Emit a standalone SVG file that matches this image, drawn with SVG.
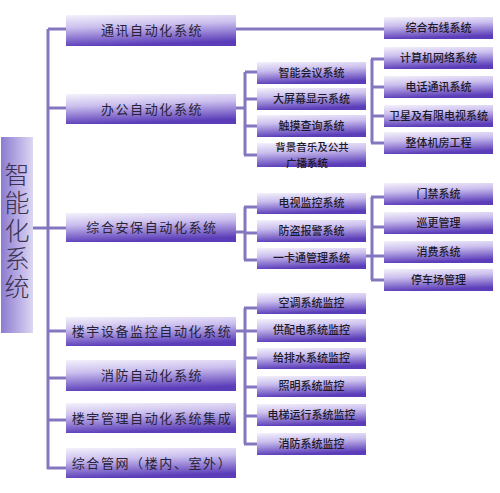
<svg xmlns="http://www.w3.org/2000/svg" width="500" height="493" viewBox="0 0 500 493">
<defs>
<linearGradient id="gBox" x1="0" y1="0" x2="0.2" y2="1">
<stop offset="0" stop-color="#f4f1fb"/>
<stop offset="0.4" stop-color="#cbbfee"/>
<stop offset="1" stop-color="#5b3db9"/>
</linearGradient>
<linearGradient id="gRoot" x1="0" y1="0" x2="1" y2="0">
<stop offset="0" stop-color="#8c7bd0"/>
<stop offset="0.75" stop-color="#c9bfec"/>
<stop offset="1" stop-color="#ddd8ee"/>
</linearGradient>
</defs>
<style>
.b{fill:url(#gBox)}
.t1{font-family:"Noto Sans CJK SC","Noto Sans CJK TC",sans-serif;font-size:13px;fill:#262238;text-anchor:middle;letter-spacing:1.6px}
.t2{font-family:"Noto Sans CJK SC","Noto Sans CJK TC",sans-serif;font-size:11px;font-weight:500;fill:#1c1a2a;text-anchor:middle}
.t3{font-size:10.5px}
.t0{font-family:"Noto Sans CJK SC","Noto Sans CJK TC",sans-serif;font-size:25px;font-weight:300;fill:#3a3350;writing-mode:vertical-rl;letter-spacing:3px}
.c{fill:none;stroke:#8576c0;stroke-width:3}
</style>
<rect width="500" height="493" fill="#ffffff"/>
<g id="connectors">
<path class="c" d="M48 29 V469"/>
<path class="c" d="M33 228 H48"/>
<path class="c" d="M48 29 H66 M48 108 H66 M48 228 H66 M48 331 H66 M48 378 H66 M48 420 H66 M47 468 H66"/>
<path class="c" d="M236 29 H384"/>
<path class="c" d="M236 108 H245 M245 72 V155 M245 72 H257 M245 99 H257 M245 126 H257 M244 155 H257"/>
<path class="c" d="M372 59 V143 M371 59 H384 M372 87 H384 M372 116 H384 M371 143 H384"/>
<path class="c" d="M236 232 H245 M245 207 V260 M244 207 H257 M245 233 H257 M244 260 H257"/>
<path class="c" d="M366 256 H372 M372 197 V280 M371 197 H384 M372 227 H384 M372 256 H384 M371 280 H384"/>
<path class="c" d="M236 331 H245 M245 308 V444 M244 308 H257 M245 331 H257 M245 358 H257 M245 387 H257 M245 416 H257 M244 444 H257"/>
</g>
<g id="root"><rect x="1" y="137" width="32" height="196" fill="url(#gRoot)"/>
<text class="t0" x="17" y="162">智能化系统</text></g>
<g id="n-tongxun"><rect class="b" x="66" y="15" width="170" height="31"/><text class="t1" x="152" y="35">通讯自动化系统</text></g>
<g id="n-bangong"><rect class="b" x="66" y="94" width="170" height="30"/><text class="t1" x="152" y="114">办公自动化系统</text></g>
<g id="n-anbao"><rect class="b" x="66" y="213" width="170" height="29"/><text class="t1" x="152" y="232">综合安保自动化系统</text></g>
<g id="n-shebei"><rect class="b" x="66" y="317" width="170" height="29"/><text class="t1" x="152" y="336">楼宇设备监控自动化系统</text></g>
<g id="n-xiaofang"><rect class="b" x="66" y="360" width="170" height="31"/><text class="t1" x="152" y="380">消防自动化系统</text></g>
<g id="n-guanli"><rect class="b" x="66" y="403" width="170" height="30"/><text class="t1" x="152" y="423">楼宇管理自动化系统集成</text></g>
<g id="n-guanwang"><rect class="b" x="66" y="448" width="170" height="30"/><text class="t1" x="152" y="468">综合管网（楼内、室外）</text></g>

<g id="n-huiyi"><rect class="b" x="257" y="62" width="109" height="22"/><text class="t2" x="311.5" y="77">智能会议系统</text></g>
<g id="n-dapingmu"><rect class="b" x="257" y="88" width="109" height="22"/><text class="t2" x="311.5" y="103">大屏幕显示系统</text></g>
<g id="n-chumo"><rect class="b" x="257" y="115" width="109" height="22"/><text class="t2" x="311.5" y="130">触摸查询系统</text></g>
<g id="n-beijing"><rect class="b" x="257" y="143" width="109" height="24"/><text class="t2 t3" x="312" y="151.3">背景音乐及公共</text><text class="t2 t3" x="307" y="166.6">广播系统</text></g>

<g id="n-buxian"><rect class="b" x="384" y="17" width="109" height="22"/><text class="t2" x="438.5" y="32">综合布线系统</text></g>
<g id="n-jisuanji"><rect class="b" x="384" y="47" width="109" height="22"/><text class="t2" x="438.5" y="62">计算机网络系统</text></g>
<g id="n-dianhua"><rect class="b" x="384" y="76" width="109" height="22"/><text class="t2" x="438.5" y="91">电话通讯系统</text></g>
<g id="n-weixing"><rect class="b" x="384" y="105" width="109" height="22"/><text class="t2" x="438.5" y="120">卫星及有限电视系统</text></g>
<g id="n-jifang"><rect class="b" x="384" y="132" width="109" height="22"/><text class="t2" x="438.5" y="147">整体机房工程</text></g>

<g id="n-dianshi"><rect class="b" x="257" y="193" width="109" height="21"/><text class="t2" x="311.5" y="207">电视监控系统</text></g>
<g id="n-fangdao"><rect class="b" x="257" y="220" width="109" height="22"/><text class="t2" x="311.5" y="235">防盗报警系统</text></g>
<g id="n-yikatong"><rect class="b" x="257" y="248" width="109" height="21"/><text class="t2" x="311.5" y="262">一卡通管理系统</text></g>

<g id="n-menjin"><rect class="b" x="384" y="183" width="109" height="22"/><text class="t2" x="438.5" y="198">门禁系统</text></g>
<g id="n-xungeng"><rect class="b" x="384" y="212" width="109" height="22"/><text class="t2" x="438.5" y="227">巡更管理</text></g>
<g id="n-xiaofei"><rect class="b" x="384" y="241" width="109" height="22"/><text class="t2" x="438.5" y="256">消费系统</text></g>
<g id="n-tingche"><rect class="b" x="384" y="269" width="109" height="22"/><text class="t2" x="438.5" y="284">停车场管理</text></g>

<g id="n-kongtiao"><rect class="b" x="257" y="293" width="109" height="21"/><text class="t2" x="311.5" y="307">空调系统监控</text></g>
<g id="n-gongpeidian"><rect class="b" x="257" y="319" width="109" height="23"/><text class="t2" x="311.5" y="334">供配电系统监控</text></g>
<g id="n-jipaishui"><rect class="b" x="257" y="348" width="109" height="21"/><text class="t2" x="311.5" y="362">给排水系统监控</text></g>
<g id="n-zhaoming"><rect class="b" x="257" y="376" width="109" height="21"/><text class="t2" x="311.5" y="390">照明系统监控</text></g>
<g id="n-dianti"><rect class="b" x="257" y="404" width="109" height="22"/><text class="t2" x="311.5" y="419">电梯运行系统监控</text></g>
<g id="n-xiaofangjk"><rect class="b" x="257" y="433" width="109" height="22"/><text class="t2" x="311.5" y="448">消防系统监控</text></g>
</svg>
